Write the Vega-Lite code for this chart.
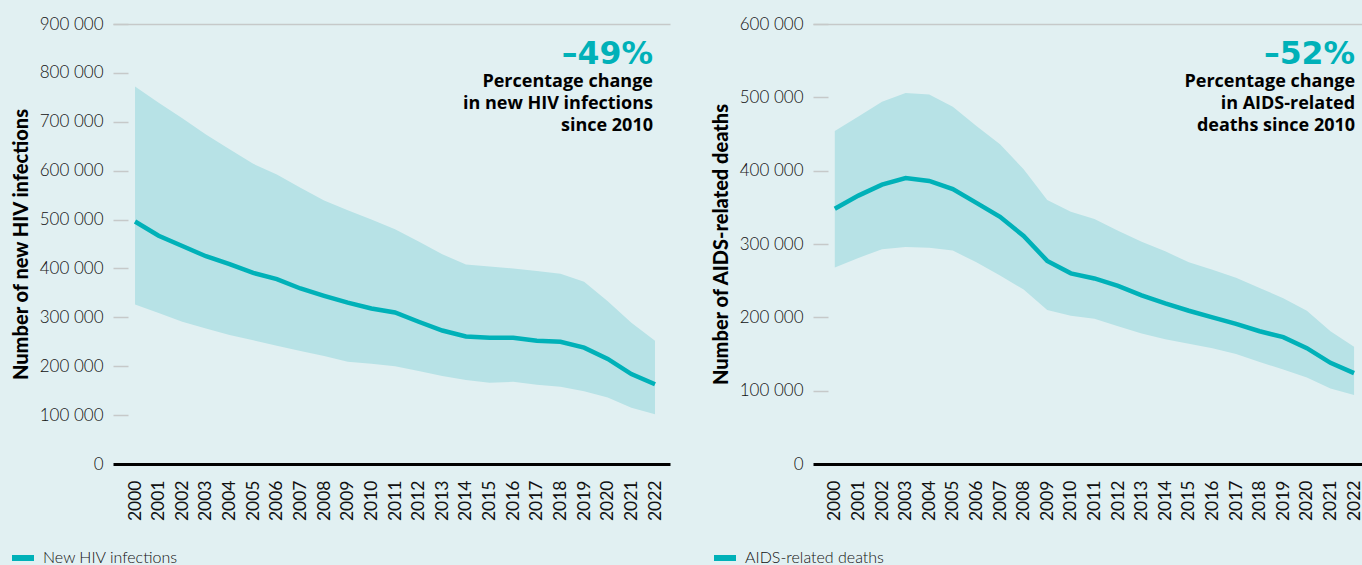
{
  "$schema": "https://vega.github.io/schema/vega-lite/v6.json",
  "background": "#e1f0f2",
  "padding": {"left": 9, "top": 15, "right": 0, "bottom": 0},
  "bounds": "flush",
  "spacing": 143,
  "resolve": {"scale": {"color": "independent"}, "legend": {"color": "independent"}},
  "config": {
    "view": {"stroke": null},
    "font": "Lato",
    "axisX": {
      "title": null,
      "labelAngle": 270,
      "labelPadding": 16,
      "ticks": false,
      "domainColor": "#000000",
      "domainWidth": 3,
      "labelFontSize": 17.5,
      "labelFont": "Lato",
      "labelFontWeight": 400,
      "labelColor": "#111111",
      "grid": false
    },
    "axisY": {
      "domain": false,
      "tickSize": -15,
      "tickColor": "#c6c9c9",
      "tickWidth": 1.5,
      "tickOpacity": {"condition": {"test": "datum.value == 0", "value": 0}, "value": 1},
      "labelPadding": 25,
      "labelFontSize": 17,
      "labelFont": "Lato",
      "labelFontWeight": 300,
      "labelColor": "#111111",
      "titleFont": "Lato",
      "titleFontSize": 20,
      "titleFontWeight": 900,
      "titleColor": "#000000",
      "titlePadding": 7.5,
      "grid": true,
      "gridColor": "#c6c9c9",
      "gridWidth": 1.5,
      "labelExpr": "replace(format(datum.value, ','), regexp(',', 'g'), ' ')"
    }
  },
  "datasets": {
    "hiv": [
      {"year": 2000, "value": 496000, "lower": 326000, "upper": 772000, "series": "New HIV infections"},
      {"year": 2001, "value": 467000, "lower": 309000, "upper": 739000, "series": "New HIV infections"},
      {"year": 2002, "value": 446000, "lower": 291000, "upper": 707000, "series": "New HIV infections"},
      {"year": 2003, "value": 425000, "lower": 277000, "upper": 674000, "series": "New HIV infections"},
      {"year": 2004, "value": 409000, "lower": 264000, "upper": 644000, "series": "New HIV infections"},
      {"year": 2005, "value": 391000, "lower": 253000, "upper": 614000, "series": "New HIV infections"},
      {"year": 2006, "value": 378000, "lower": 242000, "upper": 592000, "series": "New HIV infections"},
      {"year": 2007, "value": 359000, "lower": 231000, "upper": 565000, "series": "New HIV infections"},
      {"year": 2008, "value": 344000, "lower": 221000, "upper": 539000, "series": "New HIV infections"},
      {"year": 2009, "value": 330000, "lower": 209000, "upper": 519000, "series": "New HIV infections"},
      {"year": 2010, "value": 318000, "lower": 205000, "upper": 500000, "series": "New HIV infections"},
      {"year": 2011, "value": 310000, "lower": 200000, "upper": 480000, "series": "New HIV infections"},
      {"year": 2012, "value": 291000, "lower": 190000, "upper": 455000, "series": "New HIV infections"},
      {"year": 2013, "value": 273000, "lower": 180000, "upper": 429000, "series": "New HIV infections"},
      {"year": 2014, "value": 261000, "lower": 172000, "upper": 408000, "series": "New HIV infections"},
      {"year": 2015, "value": 258000, "lower": 166000, "upper": 404000, "series": "New HIV infections"},
      {"year": 2016, "value": 258000, "lower": 168000, "upper": 400000, "series": "New HIV infections"},
      {"year": 2017, "value": 252000, "lower": 162000, "upper": 395000, "series": "New HIV infections"},
      {"year": 2018, "value": 250000, "lower": 158000, "upper": 389000, "series": "New HIV infections"},
      {"year": 2019, "value": 238000, "lower": 149000, "upper": 373000, "series": "New HIV infections"},
      {"year": 2020, "value": 215000, "lower": 136000, "upper": 333000, "series": "New HIV infections"},
      {"year": 2021, "value": 184000, "lower": 115000, "upper": 289000, "series": "New HIV infections"},
      {"year": 2022, "value": 163000, "lower": 102000, "upper": 252000, "series": "New HIV infections"}
    ],
    "aids": [
      {"year": 2000, "value": 348000, "lower": 268000, "upper": 454000, "series": "AIDS-related deaths"},
      {"year": 2001, "value": 366000, "lower": 281000, "upper": 474000, "series": "AIDS-related deaths"},
      {"year": 2002, "value": 381000, "lower": 293000, "upper": 494000, "series": "AIDS-related deaths"},
      {"year": 2003, "value": 390000, "lower": 296000, "upper": 506000, "series": "AIDS-related deaths"},
      {"year": 2004, "value": 386000, "lower": 295000, "upper": 504000, "series": "AIDS-related deaths"},
      {"year": 2005, "value": 375000, "lower": 291000, "upper": 487000, "series": "AIDS-related deaths"},
      {"year": 2006, "value": 356000, "lower": 275000, "upper": 461000, "series": "AIDS-related deaths"},
      {"year": 2007, "value": 337000, "lower": 257000, "upper": 436000, "series": "AIDS-related deaths"},
      {"year": 2008, "value": 311000, "lower": 238000, "upper": 402000, "series": "AIDS-related deaths"},
      {"year": 2009, "value": 277000, "lower": 210000, "upper": 360000, "series": "AIDS-related deaths"},
      {"year": 2010, "value": 260000, "lower": 202000, "upper": 344000, "series": "AIDS-related deaths"},
      {"year": 2011, "value": 253000, "lower": 198000, "upper": 334000, "series": "AIDS-related deaths"},
      {"year": 2012, "value": 243000, "lower": 188000, "upper": 318000, "series": "AIDS-related deaths"},
      {"year": 2013, "value": 230000, "lower": 178000, "upper": 303000, "series": "AIDS-related deaths"},
      {"year": 2014, "value": 219000, "lower": 170000, "upper": 290000, "series": "AIDS-related deaths"},
      {"year": 2015, "value": 209000, "lower": 164000, "upper": 275000, "series": "AIDS-related deaths"},
      {"year": 2016, "value": 200000, "lower": 158000, "upper": 265000, "series": "AIDS-related deaths"},
      {"year": 2017, "value": 191000, "lower": 150000, "upper": 254000, "series": "AIDS-related deaths"},
      {"year": 2018, "value": 181000, "lower": 139000, "upper": 240000, "series": "AIDS-related deaths"},
      {"year": 2019, "value": 173000, "lower": 129000, "upper": 226000, "series": "AIDS-related deaths"},
      {"year": 2020, "value": 158000, "lower": 118000, "upper": 209000, "series": "AIDS-related deaths"},
      {"year": 2021, "value": 138000, "lower": 103000, "upper": 181000, "series": "AIDS-related deaths"},
      {"year": 2022, "value": 124000, "lower": 94000, "upper": 160000, "series": "AIDS-related deaths"}
    ]
  },
  "hconcat": [
    {
      "width": 557,
      "height": 440,
      "data": {"name": "hiv"},
      "encoding": {
        "x": {"field": "year", "type": "ordinal", "scale": {"type": "point", "padding": 0.783, "align": 0.595}}
      },
      "layer": [
        {
          "mark": {"type": "area", "color": "#b7e2e6", "opacity": 1},
          "encoding": {
            "y": {"field": "lower", "type": "quantitative", "scale": {"domain": [0, 900000]},
              "axis": {"title": "Number of new HIV infections", "values": [0, 100000, 200000, 300000, 400000, 500000, 600000, 700000, 800000, 900000],
                "gridOpacity": {"condition": {"test": "datum.value == 900000", "value": 1}, "value": 0}}},
            "y2": {"field": "upper"}
          }
        },
        {
          "mark": {"type": "line", "strokeWidth": 4.5},
          "encoding": {
            "y": {"field": "value", "type": "quantitative"},
            "color": {"field": "series", "type": "nominal", "scale": {"range": ["#00b1b8"]},
              "legend": {"title": null, "orient": "none", "legendX": -104, "legendY": 520, "symbolType": "stroke", "symbolStrokeWidth": 6, "symbolSize": 484, "labelFontSize": 16, "labelFont": "Lato", "labelFontWeight": 300, "labelColor": "#111111", "labelOffset": 6, "padding": 0}}
          }
        },
        {
          "data": {"values": [{"label": "–49%"}]},
          "mark": {"type": "text", "align": "right", "baseline": "alphabetic", "font": "DejaVu Sans", "fontSize": 31.5, "fontWeight": "bold", "color": "#00b1b8", "dx": -2},
          "encoding": {
            "x": {"datum": 2022, "type": "ordinal"},
            "y": {"datum": 818000, "type": "quantitative"},
            "text": {"field": "label"}
          }
        },
        {
          "data": {"values": [{"label": "note"}]},
          "mark": {"type": "text", "align": "right", "baseline": "alphabetic", "font": "Open Sans", "fontSize": 18, "fontWeight": "bold", "color": "#000000", "lineHeight": 22, "dx": -2,
            "text": ["Percentage change", "in new HIV infections", "since 2010"]},
          "encoding": {
            "x": {"datum": 2022, "type": "ordinal"},
            "y": {"datum": 771800, "type": "quantitative"}
          }
        }
      ]
    },
    {
      "width": 549,
      "height": 440,
      "data": {"name": "aids"},
      "encoding": {
        "x": {"field": "year", "type": "ordinal", "scale": {"type": "point", "padding": 0.63, "align": 0.733}}
      },
      "layer": [
        {
          "mark": {"type": "area", "color": "#b7e2e6", "opacity": 1},
          "encoding": {
            "y": {"field": "lower", "type": "quantitative", "scale": {"domain": [0, 600000]},
              "axis": {"title": "Number of AIDS-related deaths", "values": [0, 100000, 200000, 300000, 400000, 500000, 600000],
                "gridOpacity": {"condition": {"test": "datum.value == 600000", "value": 1}, "value": 0}}},
            "y2": {"field": "upper"}
          }
        },
        {
          "mark": {"type": "line", "strokeWidth": 4.5},
          "encoding": {
            "y": {"field": "value", "type": "quantitative"},
            "color": {"field": "series", "type": "nominal", "scale": {"range": ["#00b1b8"]},
              "legend": {"title": null, "orient": "none", "legendX": -102, "legendY": 520, "symbolType": "stroke", "symbolStrokeWidth": 6, "symbolSize": 484, "labelFontSize": 16, "labelFont": "Lato", "labelFontWeight": 300, "labelColor": "#111111", "labelOffset": 6, "padding": 0}}
          }
        },
        {
          "data": {"values": [{"label": "–52%"}]},
          "mark": {"type": "text", "align": "right", "baseline": "alphabetic", "font": "DejaVu Sans", "fontSize": 31.5, "fontWeight": "bold", "color": "#00b1b8", "dx": 1},
          "encoding": {
            "x": {"datum": 2022, "type": "ordinal"},
            "y": {"datum": 545500, "type": "quantitative"},
            "text": {"field": "label"}
          }
        },
        {
          "data": {"values": [{"label": "note"}]},
          "mark": {"type": "text", "align": "right", "baseline": "alphabetic", "font": "Open Sans", "fontSize": 18, "fontWeight": "bold", "color": "#000000", "lineHeight": 22, "dx": 1,
            "text": ["Percentage change", "in AIDS-related", "deaths since 2010"]},
          "encoding": {
            "x": {"datum": 2022, "type": "ordinal"},
            "y": {"datum": 514500, "type": "quantitative"}
          }
        }
      ]
    }
  ]
}
